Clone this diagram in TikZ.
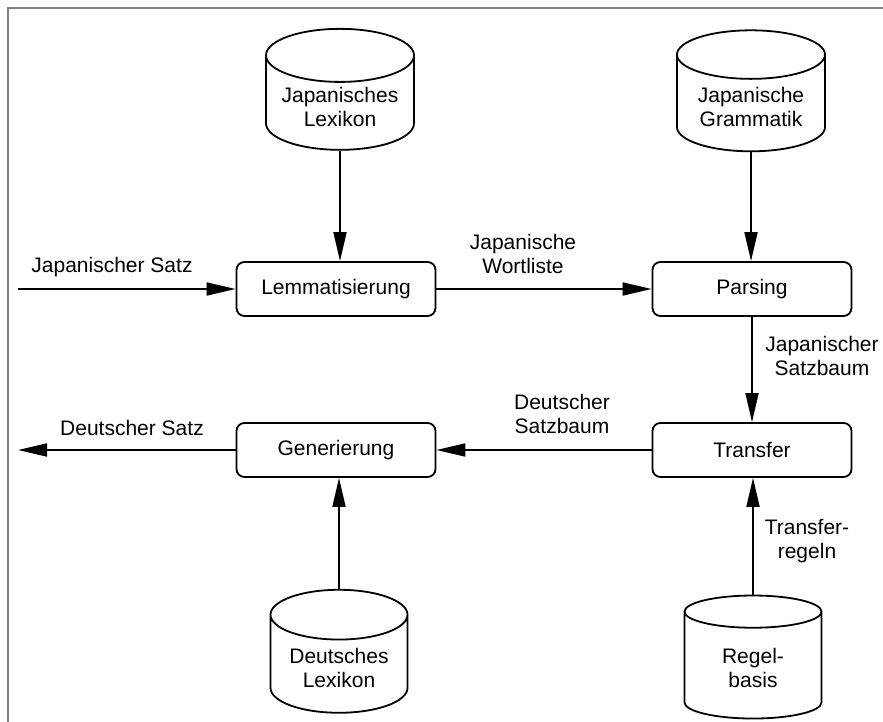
\documentclass[tikz,border=0pt]{standalone}
\usepackage{fontspec}
\setmainfont{Liberation Sans}
\usetikzlibrary{shapes.geometric, arrows.meta}

\tikzset{
  txt/.style={font=\fontsize{21}{24}\selectfont, align=center},
  proc/.style={txt, draw, rectangle, rounded corners=8pt, line width=1.8pt,
    minimum width=199pt, minimum height=54pt},
  db/.style={txt, draw, cylinder, shape border rotate=90, aspect=0.47,
    line width=1.8pt, minimum width=148pt, minimum height=123pt},
  flow/.style={line width=1.8pt, -{Triangle[length=29pt,width=13pt]}},
  frame/.style={draw=gray, line width=1.5pt}
}

\begin{document}
\begin{tikzpicture}[x=1pt, y=-1pt]

  \useasboundingbox (0,0) rectangle (883,722);

  % --- frame ---
  \draw[frame] (8,722) -- (8,8) -- (883,8);

  % --- databases ---
  \node[db, aspect=0.43, minimum height=121pt] (jlex) at (340,107) {Japanisches\\Lexikon};
  \node[db, aspect=0.43, minimum height=121pt] (jgram) at (751,107) {Japanische\\Grammatik};
  \node[db, minimum width=137pt] (dlex) at (339,668) {Deutsches\\Lexikon};
  \node[db, minimum width=137pt] (rules) at (753,668) {Regel-\\basis};

  % --- processing steps ---
  \node[proc] (lemma) at (336,289) {Lemmatisierung};
  \node[proc] (parse) at (752,289) {Parsing};
  \node[proc] (trans) at (752,450) {Transfer};
  \node[proc] (gen) at (336,450) {Generierung};

  % --- free ends ---
  \coordinate (jsatz) at (18,289);
  \coordinate (dsatz) at (18,450);

  % --- connectors ---
  \draw[flow] (jsatz) -- (lemma);
  \draw[flow] (jlex) -- (jlex |- lemma.north);
  \draw[flow] (lemma) -- (parse);
  \draw[flow] (jgram) -- (jgram |- parse.north);
  \draw[flow] (parse) -- (trans);
  \draw[flow] (trans) -- (gen);
  \draw[flow] (gen) -- (dsatz);
  \draw[flow] (dlex) -- (dlex |- gen.south);
  \draw[flow] (rules) -- (rules |- trans.south);

  % --- labels ---
  \node[txt] (ljsatz) at (112,267) {Japanischer Satz};
  \node[txt] (lwort) at (523,254) {Japanische\\Wortliste};
  \node[txt] (ljbaum) at (822,356) {Japanischer\\Satzbaum};
  \node[txt] (ldbaum) at (562,414) {Deutscher\\Satzbaum};
  \node[txt] (ldsatz) at (132,428) {Deutscher Satz};
  \node[txt] (lregeln) at (807,541) {Transfer-\\regeln};

\end{tikzpicture}
\end{document}
